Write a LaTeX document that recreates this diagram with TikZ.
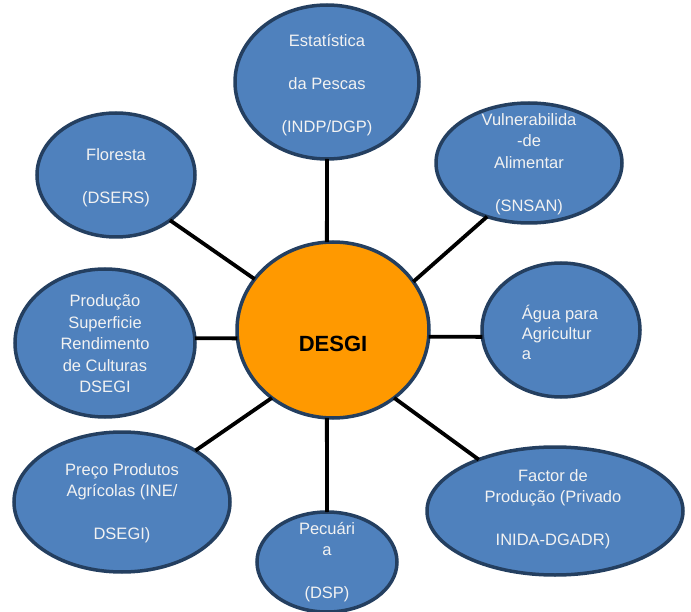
\documentclass[tikz,border=0pt]{standalone}
\usepackage{fontspec}
\setmainfont{Liberation Sans}
\usetikzlibrary{shapes.geometric}
\definecolor{bluefill}{HTML}{4F81BD}
\definecolor{blueline}{HTML}{243F60}
\definecolor{orangefill}{HTML}{FF9900}
\definecolor{txtcol}{HTML}{F2F2F2}
\begin{document}
\begin{tikzpicture}[x=1pt,y=-1pt,
  bub/.style={ellipse, draw=blueline, line width=3.5pt, fill=bluefill, inner sep=0pt, outer sep=0pt},
  hub/.style={ellipse, draw=blueline, line width=3.5pt, fill=orangefill, inner sep=0pt, outer sep=0pt},
  txt/.style={text=txtcol, font=\fontsize{16.5}{21.5}\selectfont, align=center, inner sep=0pt},
  link/.style={line width=3.8pt, black}]
\useasboundingbox (0,0) rectangle (691,612);
\node[hub, minimum width=192pt, minimum height=176pt,
  label={[font=\fontsize{22}{26}\selectfont\bfseries, text=black, inner sep=0pt, yshift=-14pt]center:DESGI}] (desgi) at (333,330) {};
\node[bub, minimum width=184pt, minimum height=154pt,
  label={[txt, yshift=-3pt]center:Estatística\\[21.5pt]da Pescas\\[21.5pt](INDP/DGP)}] (estat) at (327,82) {};
\node[bub, minimum width=186pt, minimum height=120pt,
  label={[txt, yshift=-1pt]center:Vulnerabilida\\-de\\Alimentar\\[21.5pt](SNSAN)}] (vuln) at (529,163) {};
\node[bub, minimum width=158pt, minimum height=124pt,
  label={[txt, yshift=-3pt]center:Floresta\\[21.5pt](DSERS)}] (flor) at (116,175) {};
\node[bub, minimum width=180pt, minimum height=148pt,
  label={[txt, yshift=-1pt]center:Produção\\Superficie\\Rendimento\\de Culturas\\DSEGI}] (prod) at (105,343) {};
\node[bub, minimum width=158pt, minimum height=134pt,
  label={[txt, align=left, font=\fontsize{16.5}{20}\selectfont, yshift=-2pt, xshift=-1pt]center:Água para\\Agricultur\\a}] (agua) at (561,330) {};
\node[bub, minimum width=216pt, minimum height=140pt,
  label={[txt, yshift=-1pt]center:Preço Produtos\\Agrícolas (INE/\\[21.5pt]DSEGI)}] (preco) at (122,502) {};
\node[bub, minimum width=140pt, minimum height=100pt,
  label={[txt]center:Pecuári\\a\\[21.5pt](DSP)}] (pec) at (327,562) {};
\node[bub, minimum width=256pt, minimum height=128pt,
  label={[txt, yshift=2pt, xshift=-2pt]center:Factor de\\Produção (Privado\\[21.5pt]INIDA-DGADR)}] (fact) at (555,511) {};
\draw[link] (estat.-90) -- (desgi.94);
\draw[link] (vuln.-128) -- (desgi.31);
\draw[link] (flor.-40) -- (desgi.147);
\draw[link] (prod.3) -- (desgi.-175);
\draw[link] (agua.-175) -- (desgi.-4);
\draw[link] (preco.35) -- (desgi.-132);
\draw[link] (pec.90) -- (desgi.-94);
\draw[link] (fact.146) -- (desgi.-48);
\end{tikzpicture}
\end{document}
